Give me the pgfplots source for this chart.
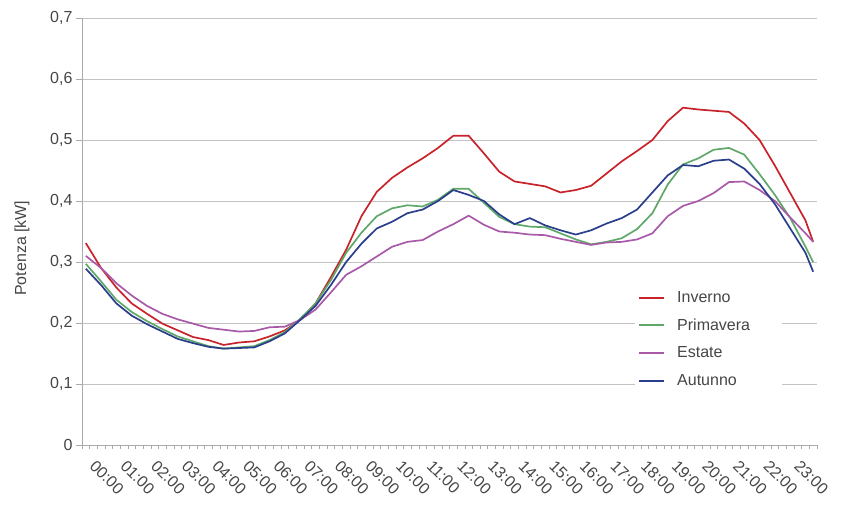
\documentclass[border=0pt]{standalone}
\usepackage{fontspec}
\setmainfont{Liberation Sans}
\usepackage{pgfplots}
\usepackage{pgfplotstable}
\pgfplotsset{compat=1.18}
\definecolor{inv}{RGB}{200,35,42}
\definecolor{pri}{RGB}{95,168,105}
\definecolor{est}{RGB}{168,90,168}
\definecolor{aut}{RGB}{42,62,140}
\definecolor{gridc}{RGB}{195,195,195}
\definecolor{axc}{RGB}{170,170,170}
\definecolor{txt}{RGB}{70,70,70}

\pgfplotstableread{
i inv pri est aut
0 0.331 0.297 0.310 0.289
2 0.290 0.268 0.290 0.262
4 0.258 0.238 0.265 0.232
6 0.232 0.218 0.245 0.212
8 0.215 0.203 0.228 0.198
10 0.199 0.190 0.215 0.186
12 0.188 0.178 0.206 0.174
14 0.177 0.170 0.199 0.167
16 0.172 0.162 0.192 0.161
18 0.164 0.158 0.189 0.158
20 0.168 0.160 0.186 0.159
22 0.170 0.162 0.187 0.160
24 0.178 0.172 0.193 0.170
26 0.188 0.185 0.194 0.183
28 0.205 0.207 0.205 0.205
30 0.232 0.232 0.222 0.228
32 0.275 0.270 0.250 0.262
34 0.320 0.315 0.279 0.300
36 0.375 0.348 0.293 0.330
38 0.415 0.375 0.309 0.355
40 0.438 0.388 0.325 0.366
42 0.455 0.393 0.333 0.380
44 0.470 0.391 0.336 0.386
46 0.487 0.402 0.350 0.400
48 0.507 0.420 0.362 0.418
50 0.507 0.420 0.376 0.410
52 0.478 0.397 0.361 0.400
54 0.448 0.374 0.350 0.378
56 0.432 0.362 0.348 0.362
58 0.428 0.358 0.345 0.372
60 0.424 0.357 0.344 0.360
62 0.414 0.347 0.338 0.352
64 0.418 0.337 0.333 0.345
66 0.425 0.329 0.328 0.352
68 0.445 0.333 0.332 0.363
70 0.465 0.339 0.333 0.372
72 0.482 0.354 0.337 0.386
74 0.500 0.380 0.347 0.414
76 0.531 0.427 0.375 0.442
78 0.553 0.460 0.392 0.459
80 0.550 0.470 0.400 0.457
82 0.548 0.484 0.413 0.466
84 0.546 0.487 0.431 0.468
86 0.527 0.476 0.432 0.453
88 0.500 0.444 0.418 0.428
90 0.458 0.410 0.400 0.395
92 0.413 0.372 0.373 0.355
94 0.368 0.325 0.347 0.315
95 0.333 0.300 0.333 0.284
}\data

\begin{document}
\begin{tikzpicture}
\path[use as bounding box] (-82bp,-67bp) rectangle (768bp,445bp);
\begin{axis}[
  at={(0,0)}, anchor=south west,
  width=735bp, height=427bp, scale only axis,
  xmin=-0.5, xmax=95.5, ymin=0, ymax=0.7,
  axis x line*=bottom, axis y line*=left,
  axis line style={draw=axc, line width=0.8bp, -},
  ytick={0,0.1,0.2,0.3,0.4,0.5,0.6,0.7},
  yticklabels={0,{0,1},{0,2},{0,3},{0,4},{0,5},{0,6},{0,7}},
  xtick={0,4,...,92},
  xticklabels={00:00,01:00,02:00,03:00,04:00,05:00,06:00,07:00,08:00,09:00,10:00,11:00,12:00,13:00,14:00,15:00,16:00,17:00,18:00,19:00,20:00,21:00,22:00,23:00},
  minor xtick={-0.5,0.5,...,95.5},
  ymajorgrids,
  grid style={gridc, line width=0.8bp},
  tick align=outside,
  major tick length=6bp, minor tick length=4bp,
  major x tick style={draw=none},
  minor x tick style={draw=axc, line width=0.6bp},
  major y tick style={draw=axc, line width=0.8bp},
  ticklabel style={font=\fontsize{16bp}{19bp}\selectfont, text=txt},
  xticklabel style={xshift=11bp, yshift=-5bp, rotate=-45, anchor=north west, inner sep=2bp},
  ylabel={Potenza [kW]},
  every axis y label/.style={at={(axis description cs:-0.0816,0.461)}, rotate=90, anchor=center, font=\fontsize{16bp}{19bp}\selectfont, text=txt},
  legend style={at={(rel axis cs:0.7524,0.372)}, anchor=north west, fill=white, draw=none,
     font=\fontsize{16bp}{19bp}\selectfont, text=txt, row sep=11bp, column sep=10bp,
     nodes={inner sep=2bp}, inner xsep=3bp, inner ysep=3bp},
  legend cell align=left,
  legend image code/.code={\draw[#1, line width=2bp] (0bp,0bp) -- (25bp,0bp);},
  every axis plot/.append style={line width=1.7bp, line join=round},
]
\addplot[inv] table[x=i, y=inv] {\data};
\addlegendentry{\makebox[100bp][l]{Inverno}}
\addplot[pri] table[x=i, y=pri] {\data};
\addlegendentry{\makebox[100bp][l]{Primavera}}
\addplot[est] table[x=i, y=est] {\data};
\addlegendentry{\makebox[100bp][l]{Estate}}
\addplot[aut] table[x=i, y=aut] {\data};
\addlegendentry{\makebox[100bp][l]{Autunno}}
\end{axis}
\end{tikzpicture}
\end{document}
